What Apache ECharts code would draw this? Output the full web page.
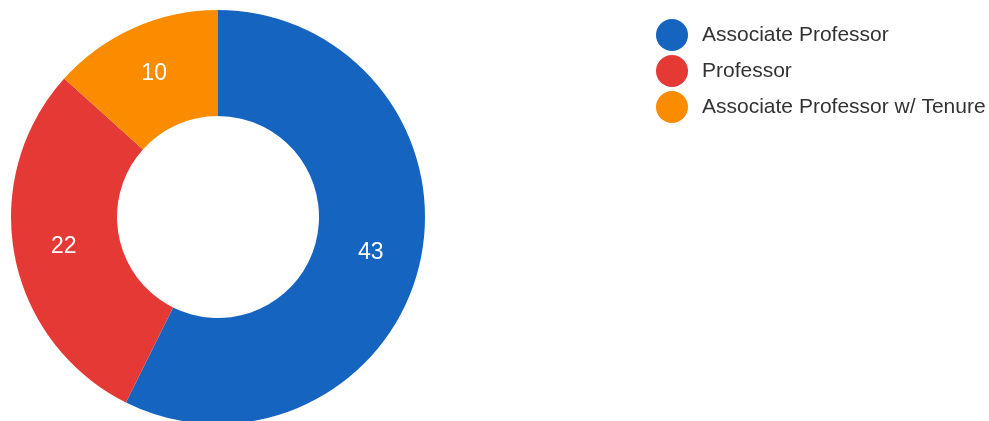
<!DOCTYPE html>
<html>
<head>
<meta charset="utf-8">
<script src="https://cdn.jsdelivr.net/npm/echarts@6/dist/echarts.min.js"></script>
<style>
  html, body { margin: 0; padding: 0; background: #fff; }
  #chart { width: 989px; height: 421px; }
</style>
</head>
<body>
<div id="chart"></div>
<script>
// Faculty rank breakdown
const categories = ['Associate Professor', 'Professor', 'Associate Professor w/ Tenure'];
const counts = [43, 22, 10];
const colors = ['#1565c0', '#e53935', '#fb8c00'];

const chart = echarts.init(document.getElementById('chart'));

chart.setOption({
  animation: false,
  color: colors,
  legend: {
    orient: 'vertical',
    left: 651,
    top: 14,
    icon: 'circle',
    itemWidth: 32,
    itemHeight: 32,
    itemGap: 4,
    data: categories,
    textStyle: {
      fontFamily: 'Liberation Sans, Arial, sans-serif',
      fontSize: 21,
      color: '#333',
      padding: [0, 0, 0, 9]
    }
  },
  series: [{
    type: 'pie',
    center: [218, 217],
    radius: [101, 207],
    startAngle: 90,
    clockwise: true,
    avoidLabelOverlap: false,
    label: {
      show: true,
      position: 'inside',
      formatter: '{c}',
      color: '#fff',
      fontFamily: 'Liberation Sans, Arial, sans-serif',
      fontSize: 23
    },
    labelLine: { show: false },
    itemStyle: { borderWidth: 0 },
    emphasis: { disabled: true },
    data: categories.map((name, i) => ({ name, value: counts[i] }))
  }]
});
</script>
</body>
</html>
